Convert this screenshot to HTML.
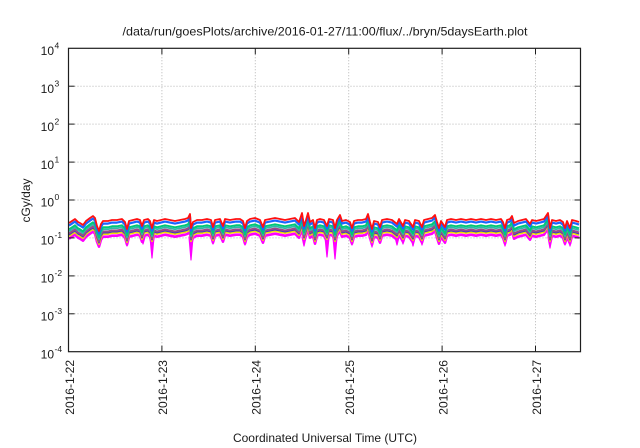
<!DOCTYPE html>
<html>
<head>
<meta charset="utf-8">
<style>
html,body{margin:0;padding:0;background:#fff;}
svg{display:block;}
text{font-family:"Liberation Sans",Arial,sans-serif;fill:#1a1a1a;}
</style>
</head>
<body>
<svg width="640" height="448" viewBox="0 0 640 448" xmlns="http://www.w3.org/2000/svg">
<defs>
<path id="b" fill="none" stroke-linejoin="round" d="M69,223 L72,221 L75,219 L78,222 L80,223 L83,225 L86,221 L90,218 L93,216 L95,218 L97,226 L99,231 L101,224 L103,221 L108,221 L112,220 L117,220 L122,219 L125,222 L127,229 L129,221 L133,220 L137,219 L140,220 L142,226 L144,220 L148,219 L150,221 L152,228 L154,220 L157,221 L161,220 L165,219 L170,220 L175,221 L180,220 L185,219 L188,218 L190,214 L191,228 L193,222 L197,220 L202,220 L207,219 L211,220 L213,227 L215,220 L220,219 L223,226 L225,219 L230,220 L236,219 L240,219 L243,221 L245,228 L247,221 L250,219 L255,218 L260,220 L263,227 L265,220 L270,219 L275,218 L280,219 L285,220 L290,219 L295,218 L299,222 L302,213 L304,226 L306,220 L308,213 L310,222 L313,220 L315,228 L317,220 L320,219 L324,220 L327,226 L329,219 L333,220 L335,228 L337,220 L340,215 L342,221 L346,220 L350,222 L352,228 L354,221 L358,220 L362,220 L366,219 L368,214 L370,222 L372,229 L374,221 L378,222 L380,227 L382,220 L387,219 L392,220 L397,224 L399,219 L403,226 L405,220 L409,221 L413,227 L415,220 L419,221 L422,227 L424,220 L428,219 L432,218 L435,215 L437,222 L439,228 L441,221 L445,227 L447,220 L451,219 L456,220 L461,219 L466,220 L471,219 L476,220 L481,219 L486,220 L491,219 L496,220 L501,219 L503,222 L505,228 L507,220 L510,219 L512,216 L514,223 L518,221 L522,220 L526,219 L530,224 L532,220 L536,221 L540,220 L544,219 L548,213 L550,228 L552,220 L556,221 L560,220 L563,222 L565,228 L567,221 L570,228 L572,220 L576,221 L579,222"/>
</defs>

<!-- grid -->
<g stroke="#b4b4b4" stroke-width="1" stroke-dasharray="1,2" fill="none">
<line x1="68.5" y1="86.2" x2="580.5" y2="86.2"/>
<line x1="68.5" y1="124.1" x2="580.5" y2="124.1"/>
<line x1="68.5" y1="162.1" x2="580.5" y2="162.1"/>
<line x1="68.5" y1="200" x2="580.5" y2="200"/>
<line x1="68.5" y1="237.9" x2="580.5" y2="237.9"/>
<line x1="68.5" y1="275.9" x2="580.5" y2="275.9"/>
<line x1="68.5" y1="313.8" x2="580.5" y2="313.8"/>
<line x1="161.9" y1="48.3" x2="161.9" y2="351.7"/>
<line x1="255.3" y1="48.3" x2="255.3" y2="351.7"/>
<line x1="348.7" y1="48.3" x2="348.7" y2="351.7"/>
<line x1="442.1" y1="48.3" x2="442.1" y2="351.7"/>
<line x1="535.5" y1="48.3" x2="535.5" y2="351.7"/>
</g>

<!-- data -->
<g>
<g fill="#ff00ff" stroke="#ff00ff" stroke-width="1.2" stroke-linejoin="round">
<polygon points="96,237 98,244 100,237"/>
<polygon points="125,237 127,246 129,237"/>
<polygon points="141,237 143,244 145,237"/>
<polygon points="150,237 152,258 154,237"/>
<polygon points="189,237 191,260 193,237"/>
<polygon points="211,237 213,244 215,237"/>
<polygon points="243,237 245,245 247,237"/>
<polygon points="261,237 263,243 265,237"/>
<polygon points="302,237 304,246 306,237"/>
<polygon points="325,237 327,257 329,237"/>
<polygon points="333,237 335,259 337,237"/>
<polygon points="350,237 352,245 354,237"/>
<polygon points="370,237 372,247 374,237"/>
<polygon points="395,237 397,245 399,237"/>
<polygon points="401,237 403,244 405,237"/>
<polygon points="411,237 413,246 415,237"/>
<polygon points="420,237 422,245 424,237"/>
<polygon points="437,237 439,244 441,237"/>
<polygon points="443,237 445,243 447,237"/>
<polygon points="503,237 505,246 507,237"/>
<polygon points="548,237 550,248 552,237"/>
<polygon points="563,237 565,245 567,237"/>
<polygon points="568,237 570,246 572,237"/>
</g>
<use href="#b" stroke="#ff00ff" stroke-width="2.6" transform="translate(0,15.7)"/>
<use href="#b" stroke="#f0e000" stroke-width="2" transform="translate(0,13)"/>
<use href="#b" stroke="#3838c8" stroke-width="1.5" transform="translate(0,11.8)"/>
<use href="#b" stroke="#9a4a8a" stroke-width="2" transform="translate(0,10.5)"/>
<use href="#b" stroke="#30b8a8" stroke-width="1.8" transform="translate(0,8.2)"/>
<use href="#b" stroke="#00c878" stroke-width="2" transform="translate(0,6.3)"/>
<use href="#b" stroke="#1a66ff" stroke-width="2.2" transform="translate(0,2.6)"/>
<use href="#b" stroke="#ff1010" stroke-width="1.8"/>
</g>

<!-- border -->
<rect x="68.5" y="48.3" width="512" height="303.4" fill="none" stroke="#1e1e1e" stroke-width="1.2"/>

<!-- ticks -->
<g stroke="#1e1e1e" stroke-width="1">
<line x1="68.5" y1="86.2" x2="74.5" y2="86.2"/><line x1="574.5" y1="86.2" x2="580.5" y2="86.2"/>
<line x1="68.5" y1="124.1" x2="74.5" y2="124.1"/><line x1="574.5" y1="124.1" x2="580.5" y2="124.1"/>
<line x1="68.5" y1="162.1" x2="74.5" y2="162.1"/><line x1="574.5" y1="162.1" x2="580.5" y2="162.1"/>
<line x1="68.5" y1="200" x2="74.5" y2="200"/><line x1="574.5" y1="200" x2="580.5" y2="200"/>
<line x1="68.5" y1="237.9" x2="74.5" y2="237.9"/><line x1="574.5" y1="237.9" x2="580.5" y2="237.9"/>
<line x1="68.5" y1="275.9" x2="74.5" y2="275.9"/><line x1="574.5" y1="275.9" x2="580.5" y2="275.9"/>
<line x1="68.5" y1="313.8" x2="74.5" y2="313.8"/><line x1="574.5" y1="313.8" x2="580.5" y2="313.8"/>
<line x1="161.9" y1="48.3" x2="161.9" y2="54.3"/><line x1="161.9" y1="345.7" x2="161.9" y2="351.7"/>
<line x1="255.3" y1="48.3" x2="255.3" y2="54.3"/><line x1="255.3" y1="345.7" x2="255.3" y2="351.7"/>
<line x1="348.7" y1="48.3" x2="348.7" y2="54.3"/><line x1="348.7" y1="345.7" x2="348.7" y2="351.7"/>
<line x1="442.1" y1="48.3" x2="442.1" y2="54.3"/><line x1="442.1" y1="345.7" x2="442.1" y2="351.7"/>
<line x1="535.5" y1="48.3" x2="535.5" y2="54.3"/><line x1="535.5" y1="345.7" x2="535.5" y2="351.7"/>
</g>

<!-- title -->
<text x="122.5" y="35.5" font-size="12" textLength="405" lengthAdjust="spacingAndGlyphs">/data/run/goesPlots/archive/2016-01-27/11:00/flux/../bryn/5daysEarth.plot</text>

<!-- y tick labels -->
<g font-size="12">
<text x="54" y="55" text-anchor="end">10</text><text x="54.5" y="48.5" font-size="8.5">4</text>
<text x="54" y="92.9" text-anchor="end">10</text><text x="54.5" y="86.4" font-size="8.5">3</text>
<text x="54" y="130.8" text-anchor="end">10</text><text x="54.5" y="124.3" font-size="8.5">2</text>
<text x="54" y="168.8" text-anchor="end">10</text><text x="54.5" y="162.3" font-size="8.5">1</text>
<text x="54" y="206.7" text-anchor="end">10</text><text x="54.5" y="200.2" font-size="8.5">0</text>
<text x="54" y="244.6" text-anchor="end">10</text><text x="54.5" y="238.1" font-size="8.5">-1</text>
<text x="54" y="282.6" text-anchor="end">10</text><text x="54.5" y="276.1" font-size="8.5">-2</text>
<text x="54" y="320.5" text-anchor="end">10</text><text x="54.5" y="314" font-size="8.5">-3</text>
<text x="54" y="358.4" text-anchor="end">10</text><text x="54.5" y="351.9" font-size="8.5">-4</text>
</g>

<!-- x tick labels -->
<g font-size="12" text-anchor="end">
<text x="73.8" y="360" transform="rotate(-90 73.8 360)">2016-1-22</text>
<text x="167.2" y="360" transform="rotate(-90 167.2 360)">2016-1-23</text>
<text x="260.6" y="360" transform="rotate(-90 260.6 360)">2016-1-24</text>
<text x="354" y="360" transform="rotate(-90 354 360)">2016-1-25</text>
<text x="447.4" y="360" transform="rotate(-90 447.4 360)">2016-1-26</text>
<text x="540.8" y="360" transform="rotate(-90 540.8 360)">2016-1-27</text>
</g>

<!-- axis labels -->
<text x="30" y="200.5" font-size="12" text-anchor="middle" transform="rotate(-90 30 200.5)">cGy/day</text>
<text x="325" y="442" font-size="12" text-anchor="middle">Coordinated Universal Time (UTC)</text>
</svg>
</body>
</html>
